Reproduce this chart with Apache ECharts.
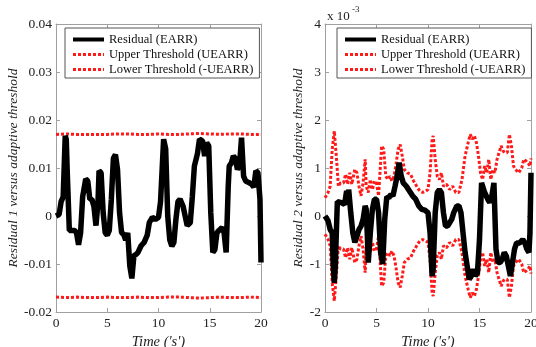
<!DOCTYPE html>
<html>
<head>
<meta charset="utf-8">
<script src="https://cdn.jsdelivr.net/npm/echarts@6/dist/echarts.min.js"></script>
<style>
  html, body { margin: 0; padding: 0; background: #fff; }
  #chart { width: 536px; height: 347px; }
</style>
</head>
<body>
<div id="chart"></div>
<script>
// Left panel: residual 1 and its (nearly constant) adaptive threshold
const time1 = [0, 0.3, 0.5, 0.7, 0.9, 1.0, 1.1, 1.3, 1.5, 1.8, 2.0, 2.2, 2.4, 2.6, 2.9, 3.1, 3.3, 3.5, 3.7, 3.9,
  4.1, 4.2, 4.4, 4.6, 4.8, 5.0, 5.2, 5.4, 5.6, 5.8, 6.0, 6.2, 6.4, 6.6, 6.8, 7.0, 7.2, 7.4, 7.6, 7.8,
  8.0, 8.3, 8.6, 8.9, 9.1, 9.4, 9.7, 10.0, 10.2, 10.5, 10.7, 10.9, 11.1, 11.3, 11.5, 11.7, 11.9, 12.1, 12.4, 12.6,
  12.8, 13.1, 13.3, 13.5, 13.8, 14.0, 14.3, 14.5, 14.7, 14.9, 15.1, 15.3, 15.5, 15.7, 15.9, 16.2, 16.4, 16.6, 16.8, 16.9,
  17.1, 17.3, 17.5, 17.7, 17.9, 18.1, 18.3, 18.5, 18.8, 19.1, 19.3, 19.5, 19.7, 19.9, 20];
const residual1 = [0, 0.0003, 0.003, 0.004, 0.0167, 0.016, 0.009, -0.003, -0.003, -0.003, -0.0035, -0.006, -0.0035, 0.004, 0.0077, 0.0073, 0.0035, 0.0035, 0.002, -0.002,
  0.003, 0.0094, 0.009, 0.0007, -0.0035, -0.004, -0.003, 0.0035, 0.012, 0.0128, 0.0097, 0.0007, -0.0035, -0.0038, -0.005, -0.0035, -0.0104, -0.013, -0.0083, -0.008,
  -0.0076, -0.0062, -0.0055, -0.004, -0.0014, -0.0003, -0.0007, -0.0003, 0.003, 0.016, 0.014, 0, -0.005, -0.0063, -0.0055, -0.0007, 0.003, 0.0035, 0.002, 0,
  -0.002, -0.0014, 0.004, 0.0104, 0.013, 0.016, 0.0156, 0.0125, 0.0153, 0.0146, 0.0007, -0.0076, -0.007, -0.0035, -0.003, -0.0024, -0.0035, -0.0076, 0.006, 0.0104,
  0.011, 0.0125, 0.012, 0.0097, 0.0104, 0.0163, 0.0083, 0.0073, 0.007, 0.0066, 0.006, 0.0094, 0.009, 0.0035, -0.0097];
const thrTime1 = [0, 1, 2, 3, 4, 5, 6, 7, 8, 9, 10, 11, 12, 13, 14, 15, 16, 17, 18, 19, 20];
const upper1 = [0.0170, 0.0171, 0.0170, 0.0170, 0.0170, 0.0170, 0.0171, 0.0171, 0.0170, 0.0170, 0.0171,
  0.0170, 0.0170, 0.0171, 0.0172, 0.0171, 0.0170, 0.0171, 0.0171, 0.0170, 0.0170];
const lower1 = [-0.0169, -0.0170, -0.0169, -0.0170, -0.0170, -0.0169, -0.0170, -0.0170, -0.0169, -0.0170, -0.0170,
  -0.0169, -0.0169, -0.0170, -0.0171, -0.0170, -0.0169, -0.0170, -0.0170, -0.0169, -0.0170];

// Right panel: residual 2 and its adaptive threshold (values in units of 1e-3)
const time2 = [0, 0.3, 0.5, 0.7, 0.8, 0.9, 1.0, 1.1, 1.2, 1.3, 1.6, 1.9, 2.1, 2.2, 2.3, 2.5, 2.7, 2.9, 3.1, 3.3,
  3.5, 3.7, 3.9, 4.0, 4.1, 4.2, 4.4, 4.6, 4.8, 5.0, 5.2, 5.4, 5.6, 5.8, 6.0, 6.2, 6.4, 6.6, 6.8, 7.0,
  7.2, 7.4, 7.6, 7.9, 8.2, 8.5, 8.8, 9.1, 9.4, 9.7, 10.0, 10.2, 10.4, 10.5, 10.7, 10.9, 11.1, 11.3, 11.5, 11.7,
  11.9, 12.1, 12.3, 12.5, 12.8, 13.0, 13.2, 13.4, 13.6, 13.8, 14.0, 14.2, 14.4, 14.6, 14.8, 15.0, 15.2, 15.3, 15.5, 15.8,
  16.0, 16.2, 16.4, 16.6, 16.8, 17.0, 17.2, 17.4, 17.6, 17.8, 18.0, 18.2, 18.4, 18.6, 18.9, 19.2, 19.4, 19.6, 19.8, 19.9, 20];
const residual2 = [0, -0.1, -0.28, -0.35, -1.04, -1.39, -1.04, -0.35, 0.3, 0.28, 0.28, 0.24, 0.52, 0.28, 0.55, 0.07, -0.35, -0.55, -0.42, -0.28,
  -0.21, -0.07, 0.21, 0.14, -0.35, -0.97, -0.35, 0.14, 0.35, 0.35, 0.07, -0.76, -1.0, -0.07, 0.4, 0.38, 0.45, 0.42, 0.62, 0.83,
  1.11, 0.83, 0.69, 0.62, 0.52, 0.42, 0.35, 0.21, 0.14, 0.12, 0.07, -0.35, -1.25, -1.1, 0.07, 0.49, 0.55, 0.49, 0.07, -0.21,
  -0.21, -0.14, -0.07, 0.07, 0.21, 0.21, 0.07, -0.35, -0.76, -1.04, -1.32, -1.25, -1.11, -1.25, -1.18, -0.49, 0.69, 0.73, 0.49, 0.35,
  0.28, 0.42, 0.69, -0.69, -0.97, -0.97, -0.9, -0.76, -0.83, -1.04, -1.25, -0.97, -0.69, -0.56, -0.56, -0.49, -0.56, -0.69, -0.76, -0.35, 0.9];
const thrTime2 = [0, 0.3, 0.5, 0.7, 0.9, 1.1, 1.3, 1.5, 1.8, 2.0, 2.2, 2.4, 2.6, 2.9, 3.1, 3.3, 3.5, 3.7, 3.9, 4.0,
  4.2, 4.4, 4.6, 4.8, 5.0, 5.2, 5.5, 5.7, 5.9, 6.1, 6.3, 6.5, 6.7, 6.9, 7.1, 7.3, 7.5, 7.7, 8.0, 8.3,
  8.6, 8.9, 9.2, 9.5, 9.8, 10.0, 10.2, 10.4, 10.5, 10.7, 10.9, 11.1, 11.3, 11.5, 11.8, 12.1, 12.4, 12.7, 13.0, 13.3,
  13.6, 13.9, 14.1, 14.3, 14.5, 14.7, 14.9, 15.1, 15.3, 15.5, 15.7, 15.9, 16.1, 16.3, 16.5, 16.7, 16.9, 17.1, 17.3, 17.5,
  17.7, 17.9, 18.1, 18.3, 18.5, 18.8, 19.1, 19.3, 19.5, 19.7, 19.9, 20];
const upper2 = [0.38, 0.49, 0.62, 1.39, 1.77, 1.25, 0.62, 0.69, 0.69, 0.87, 0.66, 0.9, 0.66, 0.97, 0.9, 0.62, 0.42, 0.69, 1.18, 0.62,
  0.49, 0.76, 0.55, 0.73, 0.69, 0.42, 1.46, 1.39, 0.83, 0.76, 0.83, 0.73, 0.83, 1.08, 1.39, 1.49, 1.25, 0.97, 0.9, 0.87,
  0.73, 0.62, 0.52, 0.49, 0.52, 0.55, 0.9, 1.6, 1.67, 1.18, 0.83, 0.76, 0.9, 0.62, 0.66, 0.55, 0.62, 0.49, 0.49, 0.76,
  1.25, 1.53, 1.7, 1.6, 1.67, 1.53, 1.25, 0.9, 0.76, 1.04, 0.9, 1.18, 0.76, 0.97, 0.9, 1.18, 1.32, 1.46, 1.35, 1.32,
  1.32, 1.7, 1.46, 1.04, 0.97, 0.9, 1.0, 1.18, 1.15, 1.11, 1.04, 1.2];
const lower2 = [-0.38, -0.49, -0.62, -1.39, -1.77, -1.25, -0.62, -0.69, -0.69, -0.87, -0.66, -0.9, -0.66, -0.97, -0.9, -0.62, -0.42, -0.69, -1.18, -0.62,
  -0.49, -0.76, -0.55, -0.73, -0.69, -0.42, -1.46, -1.39, -0.83, -0.76, -0.83, -0.73, -0.83, -1.08, -1.39, -1.49, -1.25, -0.97, -0.9, -0.87,
  -0.73, -0.62, -0.52, -0.49, -0.52, -0.55, -0.9, -1.6, -1.67, -1.18, -0.83, -0.76, -0.9, -0.62, -0.66, -0.55, -0.62, -0.49, -0.49, -0.76,
  -1.25, -1.53, -1.7, -1.6, -1.67, -1.53, -1.25, -0.9, -0.76, -1.04, -0.9, -1.18, -0.76, -0.97, -0.9, -1.18, -1.32, -1.46, -1.35, -1.32,
  -1.32, -1.7, -1.46, -1.04, -0.97, -0.9, -1.0, -1.18, -1.15, -1.11, -1.04, -1.2];

const xTicks = [0, 5, 10, 15, 20];
const seriesNames = ["Residual (EARR)", "Upper Threshold (UEARR)", "Lower Threshold (-UEARR)"];

const FONT = "'Liberation Serif', 'Times New Roman', serif";
const FRAME = "#a0a0a0";
const RED = "#ff1a1a";

const zip = (xs, ys) => xs.map((x, i) => [x, ys[i]]);

function xAxes(gridIndex) {
  const base = {
    type: "value", gridIndex, min: xTicks[0], max: xTicks[xTicks.length - 1], interval: 5,
    axisLine: { show: true, onZero: false, lineStyle: { color: FRAME, width: 1 } },
    axisTick: { show: true, inside: true, length: 4, lineStyle: { color: FRAME } },
    splitLine: { show: false },
  };
  return [
    {
      ...base, position: "bottom",
      axisLabel: { color: "#222", fontFamily: FONT, fontSize: 13.5, margin: 4 },
      name: "Time ('s')", nameLocation: "middle", nameGap: 15,
      nameTextStyle: { color: "#222", fontFamily: FONT, fontSize: 14.5, fontStyle: "italic" },
    },
    { ...base, position: "top", axisLabel: { show: false } },
  ];
}

function yAxes(gridIndex, min, max, interval, fmt, title, gap) {
  const base = {
    type: "value", gridIndex, min, max, interval,
    axisLine: { show: true, onZero: false, lineStyle: { color: FRAME, width: 1 } },
    axisTick: { show: true, inside: true, length: 4, lineStyle: { color: FRAME } },
    splitLine: { show: false },
  };
  return [
    {
      ...base, position: "left",
      axisLabel: { color: "#222", fontFamily: FONT, fontSize: 13.5, margin: 4, formatter: fmt },
      name: title, nameLocation: "middle", nameGap: gap, nameRotate: 90,
      nameTextStyle: { color: "#222", fontFamily: FONT, fontSize: 13.5, fontStyle: "italic" },
    },
    { ...base, position: "right", axisLabel: { show: false } },
  ];
}

function panelSeries(xIdx, yIdx, res, up, low) {
  const common = { type: "line", xAxisIndex: xIdx, yAxisIndex: yIdx, symbol: "none", animation: false, z: 2 };
  return [
    { ...common, name: seriesNames[1], data: up, lineStyle: { color: RED, width: 3, type: [3, 2] }, itemStyle: { color: RED } },
    { ...common, name: seriesNames[2], data: low, lineStyle: { color: RED, width: 3, type: [3, 2] }, itemStyle: { color: RED } },
    { ...common, name: seriesNames[0], data: res, z: 3, lineStyle: { color: "#000", width: 5.5 }, itemStyle: { color: "#000" } },
  ];
}

function legendAt(left) {
  return {
    left, top: 28, orient: "vertical",
    data: [
      { name: seriesNames[0], lineStyle: { width: 4 } },
      { name: seriesNames[1], lineStyle: { width: 3 } },
      { name: seriesNames[2], lineStyle: { width: 3 } },
    ],
    itemWidth: 31, itemHeight: 14, itemGap: 2,
    padding: [5, 6, 2, 6],
    backgroundColor: "#fff", borderColor: "#555", borderWidth: 1,
    itemStyle: { opacity: 0 },
    textStyle: { color: "#111", fontFamily: FONT, fontSize: 12.5 },
    selectedMode: false,
  };
}

const chart = echarts.init(document.getElementById("chart"), null, { renderer: "canvas" });

const fmtLeft = (v) => (Math.abs(v) < 1e-9 ? "0" : v.toFixed(2));
const fmtRight = (v) => String(Math.round(v));

chart.setOption({
  backgroundColor: "#fff",
  animation: false,
  grid: [
    { left: 56, right: 275, top: 24, bottom: 35, outerBoundsMode: "none" },
    { left: 325, right: 5, top: 24, bottom: 35, outerBoundsMode: "none" },
  ],
  xAxis: [...xAxes(0), ...xAxes(1)],
  yAxis: [
    ...yAxes(0, -0.02, 0.04, 0.01, fmtLeft, "Residual 1 versus adaptive threshold", 32),
    ...yAxes(1, -2, 4, 1, fmtRight, "Residual 2 versus adaptive threshold", 17),
  ],
  legend: [legendAt(65), legendAt(337)],
  series: [
    ...panelSeries(0, 0, zip(time1, residual1), zip(thrTime1, upper1), zip(thrTime1, lower1)),
    ...panelSeries(2, 2, zip(time2, residual2), zip(thrTime2, upper2), zip(thrTime2, lower2)),
  ],
  graphic: [
    { type: "text", left: 327, top: 10, style: { text: "x 10", fontFamily: FONT, fontSize: 13, fill: "#222" } },
    { type: "text", left: 352, top: 5, style: { text: "-3", fontFamily: FONT, fontSize: 9, fill: "#222" } },
  ],
});
</script>
</body>
</html>
